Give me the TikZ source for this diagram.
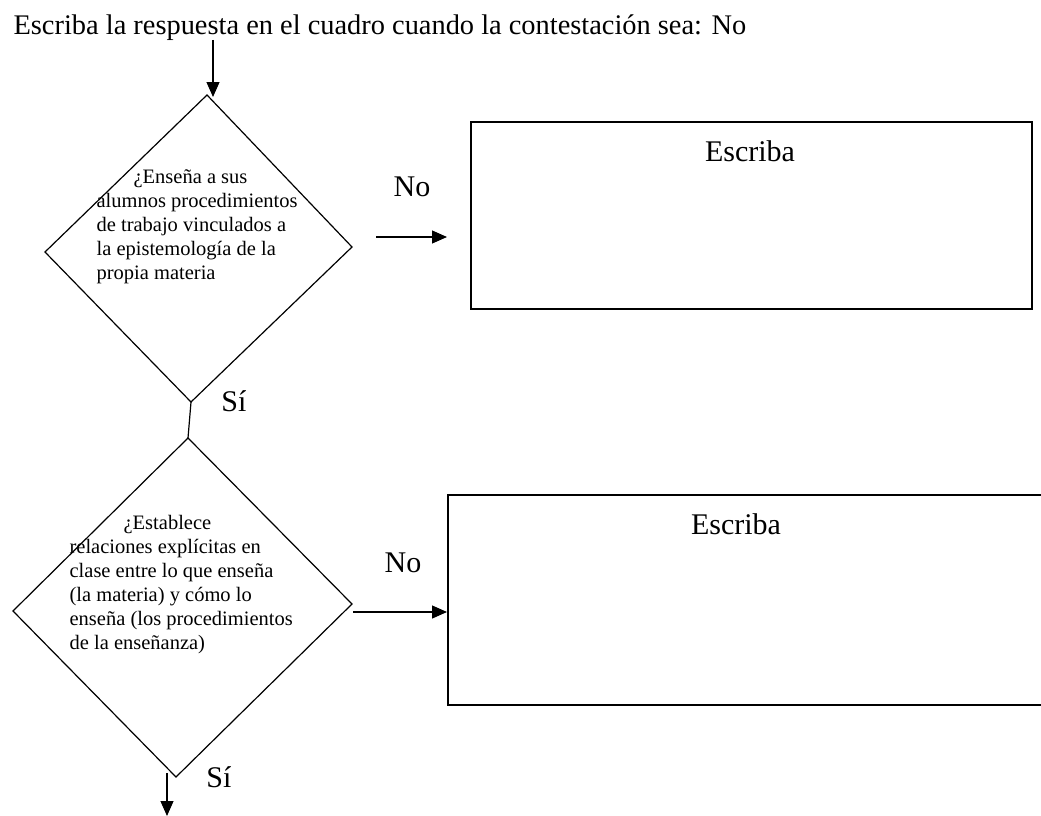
\documentclass[tikz,border=0pt]{standalone}
\usepackage{fontspec}
\setmainfont{Liberation Serif}
\usetikzlibrary{arrows.meta}

\begin{document}
\begin{tikzpicture}[x=1pt, y=-1pt, line width=1.2pt,
    pfeil/.style={-{Triangle[length=15pt, width=13pt]}},
    kasten/.style={draw, line width=1.6pt, anchor=north west, inner sep=0pt},
    gross/.style={font=\fontsize{30}{36}\selectfont, inner sep=0pt},
    frage/.style={font=\fontsize{20.5}{24}\selectfont, align=left, anchor=north west, inner sep=0pt}]
  \useasboundingbox (0, 0) rectangle (1041, 816);

  \node[gross, font=\fontsize{28.4}{34}\selectfont, anchor=base west] (titel) at (13, 35) {Escriba la respuesta en el cuadro cuando la contestación sea: No};

  % erste Frage
  \coordinate (r1n) at (207, 95);
  \coordinate (r1o) at (352, 247);
  \coordinate (r1s) at (191, 402);
  \coordinate (r1w) at (45, 252);
  \draw (r1n) -- (r1o) -- (r1s) -- (r1w) -- cycle;
  \node[frage] (frage1) at (96, 169) {\hspace*{37pt}¿Enseña a sus\\ alumnos procedimientos\\ de trabajo vinculados a\\ la epistemología de la\\ propia materia};

  % zweite Frage
  \coordinate (r2n) at (188, 438);
  \coordinate (r2o) at (352, 604);
  \coordinate (r2s) at (176, 777);
  \coordinate (r2w) at (13, 611);
  \draw (r2n) -- (r2o) -- (r2s) -- (r2w) -- cycle;
  \node[frage] (frage2) at (69, 515) {\hspace*{54pt}¿Establece\\ relaciones explícitas en\\ clase entre lo que enseña\\ (la materia) y cómo lo\\ enseña (los procedimientos\\ de la enseñanza)};

  % Kästen
  \node[kasten, minimum width=561pt, minimum height=187pt] (kasten1) at (470, 121) {};
  \node[kasten, minimum width=600pt, minimum height=210pt] (kasten2) at (447, 494) {};
  \node[gross] (escriba1) at (750, 151) {Escriba};
  \node[gross] (escriba2) at (736, 524) {Escriba};

  % Pfeile
  \coordinate (oben) at (213, 40);
  \coordinate (oben2) at (213, 97);
  \draw[pfeil] (oben) -- (oben2);

  \coordinate (no1a) at (376, 237);
  \coordinate (no1b) at (447, 237);
  \draw[pfeil] (no1a) -- (no1b);
  \node[gross] (no1) at (412, 187) {No};

  \coordinate (no2a) at (353, 612);
  \draw[pfeil] (no2a) -- (no2a -| kasten2.west);
  \node[gross] (no2) at (403, 563) {No};

  \draw (r1s) -- (r2n);
  \node[gross] (si1) at (234, 401) {Sí};

  \coordinate (unten) at (167, 773);
  \coordinate (unten2) at (167, 816);
  \draw[pfeil] (unten) -- (unten2);
  \node[gross] (si2) at (219, 777) {Sí};
\end{tikzpicture}
\end{document}
